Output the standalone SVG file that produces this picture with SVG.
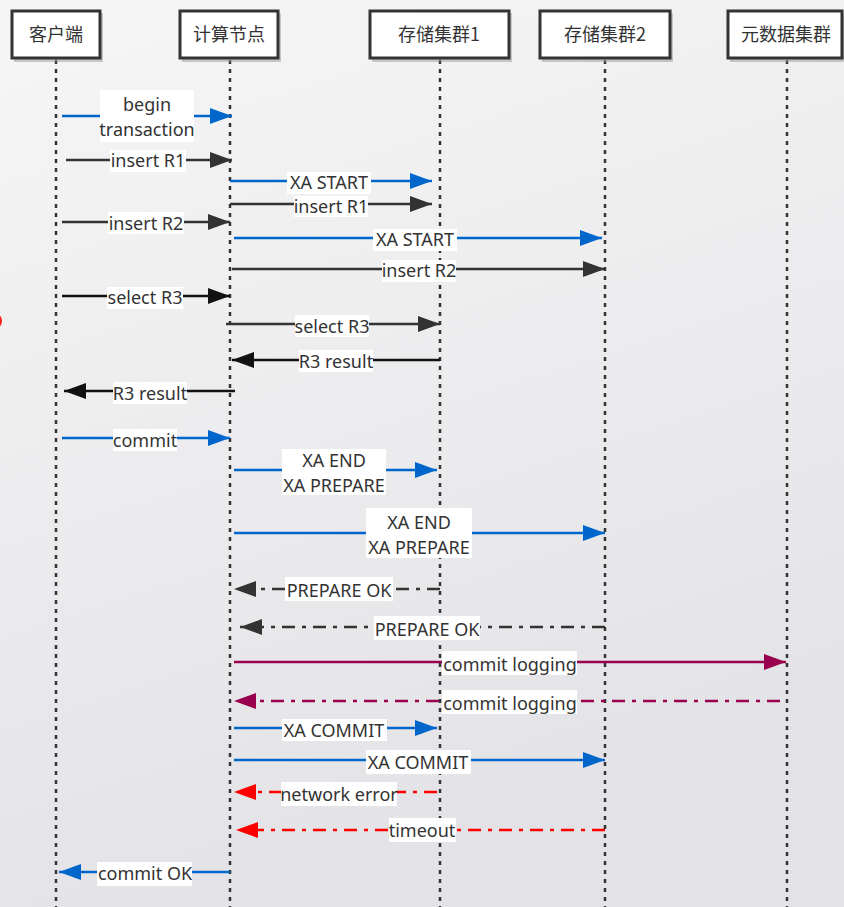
<svg xmlns="http://www.w3.org/2000/svg" width="844" height="907" viewBox="0 0 844 907">
<defs>
<linearGradient id="bg" x1="0" y1="0" x2="0.3" y2="1">
<stop offset="0" stop-color="#f6f6f6"/>
<stop offset="1" stop-color="#e3e3e7"/>
</linearGradient>
<marker id="aB" markerUnits="userSpaceOnUse" markerWidth="24" markerHeight="18" refX="22" refY="8" orient="auto"><path d="M0,0 L22,8 L0,16 z" fill="#0066cc"/></marker>
<marker id="aD" markerUnits="userSpaceOnUse" markerWidth="24" markerHeight="18" refX="22" refY="8" orient="auto"><path d="M0,0 L22,8 L0,16 z" fill="#333333"/></marker>
<marker id="aK" markerUnits="userSpaceOnUse" markerWidth="24" markerHeight="18" refX="22" refY="8" orient="auto"><path d="M0,0 L22,8 L0,16 z" fill="#111111"/></marker>
<marker id="aP" markerUnits="userSpaceOnUse" markerWidth="24" markerHeight="18" refX="22" refY="8" orient="auto"><path d="M0,0 L22,8 L0,16 z" fill="#99004d"/></marker>
<marker id="aR" markerUnits="userSpaceOnUse" markerWidth="24" markerHeight="18" refX="22" refY="8" orient="auto"><path d="M0,0 L22,8 L0,16 z" fill="#ff0000"/></marker>
</defs>
<style>
.box{fill:#ffffff;stroke:#333333;stroke-width:3}
.shadow{fill:#9a9a9a;opacity:0.5}
.life{stroke:#333333;stroke-width:2.5;stroke-dasharray:4 5;fill:none}
.hd{font-family:"Noto Sans CJK SC","Noto Sans",sans-serif;font-size:18px;fill:#333333;text-anchor:middle}
.m{stroke-width:2.5;fill:none}
.b{stroke:#0066cc;marker-end:url(#aB)}
.d{stroke:#333333;marker-end:url(#aD)}
.k{stroke:#111111;marker-end:url(#aK)}
.p{stroke:#99004d;marker-end:url(#aP)}
.r{stroke:#ff0000;marker-end:url(#aR)}
.dd{stroke-dasharray:13 7 4 7}
.lb{fill:#ffffff}
.t{font-family:"Noto Sans","Liberation Sans",sans-serif;font-size:18px;fill:#333333;text-anchor:middle}
</style>
<rect width="844" height="907" fill="url(#bg)"/>
<ellipse cx="-2" cy="321" rx="4" ry="6" fill="#ff2020"/>

<g id="lifelines">
<line class="life" x1="56" y1="60" x2="56" y2="907"/>
<line class="life" x1="230" y1="60" x2="230" y2="907"/>
<line class="life" x1="440" y1="60" x2="440" y2="907"/>
<line class="life" x1="605" y1="60" x2="605" y2="907"/>
<line class="life" x1="787" y1="60" x2="787" y2="907"/>
</g>

<g id="n-client"><rect class="shadow" x="14" y="13" width="89" height="49"/><rect class="box" x="12" y="11" width="88" height="47"/><text class="hd" x="56" y="41">客户端</text></g>
<g id="n-compute"><rect class="shadow" x="182" y="13" width="99" height="49"/><rect class="box" x="180" y="11" width="98" height="47"/><text class="hd" x="229" y="41">计算节点</text></g>
<g id="n-store1"><rect class="shadow" x="372" y="13" width="140" height="49"/><rect class="box" x="370" y="11" width="139" height="47"/><text class="hd" x="439" y="41">存储集群1</text></g>
<g id="n-store2"><rect class="shadow" x="542" y="13" width="131" height="49"/><rect class="box" x="540" y="11" width="130" height="47"/><text class="hd" x="605" y="41">存储集群2</text></g>
<g id="n-meta"><rect class="shadow" x="730" y="13" width="116" height="49"/><rect class="box" x="728" y="11" width="114" height="47"/><text class="hd" x="786" y="41">元数据集群</text></g>

<g id="connectors">
<line class="m b" x1="62" y1="116" x2="232" y2="116"/>
<rect class="lb" x="100" y="90" width="94" height="52"/>
<text class="t" x="147" y="111">begin</text><text class="t" x="147" y="136">transaction</text>

<line class="m d" x1="66" y1="160" x2="232" y2="160"/>
<rect class="lb" x="110" y="150" width="76" height="22"/><text class="t" x="148" y="167">insert R1</text>

<line class="m b" x1="230" y1="181" x2="432" y2="181"/>
<rect class="lb" x="287" y="172" width="84" height="22"/><text class="t" x="329" y="189">XA START</text>

<line class="m d" x1="230" y1="204" x2="432" y2="204"/>
<rect class="lb" x="294" y="196" width="74" height="21"/><text class="t" x="331" y="213">insert R1</text>

<line class="m d" x1="62" y1="222" x2="230" y2="222"/>
<rect class="lb" x="108" y="212" width="76" height="22"/><text class="t" x="146" y="230">insert R2</text>

<line class="m b" x1="234" y1="238" x2="602" y2="238"/>
<rect class="lb" x="373" y="229" width="84" height="22"/><text class="t" x="415" y="246">XA START</text>

<line class="m d" x1="232" y1="269" x2="605" y2="269"/>
<rect class="lb" x="382" y="260" width="74" height="22"/><text class="t" x="419" y="277">insert R2</text>

<line class="m k" x1="62" y1="296" x2="230" y2="296"/>
<rect class="lb" x="107" y="287" width="76" height="22"/><text class="t" x="145" y="304">select R3</text>

<line class="m d" x1="226" y1="324" x2="440" y2="324"/>
<rect class="lb" x="295" y="315" width="74" height="22"/><text class="t" x="332" y="333">select R3</text>

<line class="m k" x1="440" y1="360" x2="232" y2="360"/>
<rect class="lb" x="299" y="350" width="74" height="22"/><text class="t" x="336" y="368">R3 result</text>

<line class="m k" x1="235" y1="391" x2="64" y2="391"/>
<rect class="lb" x="113" y="382" width="74" height="22"/><text class="t" x="150" y="400">R3 result</text>

<line class="m b" x1="62" y1="438" x2="230" y2="438"/>
<rect class="lb" x="113" y="429" width="64" height="22"/><text class="t" x="145" y="447">commit</text>

<line class="m b" x1="234" y1="470" x2="437" y2="470"/>
<rect class="lb" x="282" y="449" width="104" height="46"/>
<text class="t" x="334" y="467">XA END</text><text class="t" x="334" y="492">XA PREPARE</text>

<line class="m b" x1="234" y1="533" x2="605" y2="533"/>
<rect class="lb" x="366" y="508" width="106" height="50"/>
<text class="t" x="419" y="529">XA END</text><text class="t" x="419" y="554">XA PREPARE</text>

<line class="m d dd" x1="440" y1="589" x2="234" y2="589"/>
<rect class="lb" x="285" y="577" width="108" height="24"/><text class="t" x="339" y="597">PREPARE OK</text>

<line class="m d dd" x1="605" y1="627" x2="240" y2="627"/>
<rect class="lb" x="374" y="616" width="106" height="24"/><text class="t" x="427" y="636">PREPARE OK</text>

<line class="m p" x1="234" y1="662" x2="786" y2="662"/>
<rect class="lb" x="442" y="651" width="135" height="24"/><text class="t" x="510" y="671">commit logging</text>

<line class="m p dd" x1="780" y1="701" x2="234" y2="701"/>
<rect class="lb" x="442" y="690" width="135" height="24"/><text class="t" x="510" y="710">commit logging</text>

<line class="m b" x1="234" y1="728" x2="437" y2="728"/>
<rect class="lb" x="282" y="719" width="105" height="22"/><text class="t" x="334" y="737">XA COMMIT</text>

<line class="m b" x1="234" y1="760" x2="605" y2="760"/>
<rect class="lb" x="366" y="750" width="105" height="24"/><text class="t" x="418" y="769">XA COMMIT</text>

<line class="m r dd" x1="437" y1="792" x2="234" y2="792"/>
<rect class="lb" x="281" y="782" width="116" height="24"/><text class="t" x="339" y="801">network error</text>

<line class="m r dd" x1="605" y1="830" x2="236" y2="830"/>
<rect class="lb" x="389" y="818" width="67" height="24"/><text class="t" x="422" y="837">timeout</text>

<line class="m b" x1="230" y1="872" x2="59" y2="872"/>
<rect class="lb" x="97" y="862" width="95" height="24"/><text class="t" x="145" y="880">commit OK</text>
</g>
</svg>
